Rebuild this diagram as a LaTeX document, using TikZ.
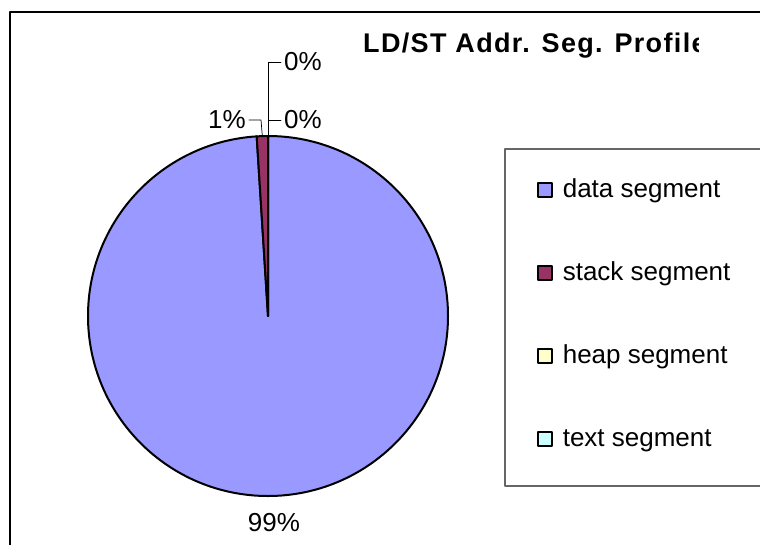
\documentclass[tikz,border=0pt]{standalone}
\usepackage{fontspec}
\setmainfont{Liberation Sans}
\newfontfamily\titlefont{Liberation Sans}[LetterSpace=5]
\usepackage{tikz}

\definecolor{dataseg}{HTML}{9999FF}
\definecolor{stackseg}{HTML}{993366}
\definecolor{heapseg}{HTML}{FFFFCC}
\definecolor{textseg}{HTML}{CCFFFF}
\definecolor{keyframe}{HTML}{666666}

\tikzset{
  slice/.style={draw=black,line width=2pt},
  pctlabel/.style={inner sep=3pt},
  leader/.style={draw=black,line width=0.7pt},
  keybox/.style={draw=black,line width=1.2pt,minimum size=14pt,inner sep=0pt},
  keytext/.style={anchor=base west,inner sep=0pt},
}

\begin{document}
\begin{tikzpicture}[x=1pt,y=-1pt,line cap=round,line join=round,font=\fontsize{26}{30}\selectfont]
    \useasboundingbox (0,0) rectangle (760,544);

    % chart frame (runs off the right and bottom edge)
    \draw[line width=1.2pt] (10,600) -- (10,12) -- (800,12);

    % title, cut off at the chart edge
    \begin{scope}
      \clip (0,0) rectangle (698,100);
      \node[anchor=base west,inner sep=0pt] (title) at (363,52) {\titlefont\fontsize{27}{30}\selectfont\bfseries LD/ST Addr. Seg. Profile};
    \end{scope}

    % the pie
    \coordinate (pc) at (268,316);
    \begin{scope}[shift={(pc)},y=1pt]
      \filldraw[slice,fill=dataseg] (0,0) -- (90:180) arc[start angle=90,end angle=-266.4,radius=180] -- cycle;
      \filldraw[slice,fill=stackseg] (0,0) -- (93.6:180) arc[start angle=93.6,end angle=90,radius=180] -- cycle;
      \coordinate (top) at (90:180);
      \coordinate (stacktop) at (91.8:180);
    \end{scope}

    % percentages
    \node[pctlabel,anchor=west] (textlbl) at (281,62) {0\%};
    \node[pctlabel,anchor=west] (heaplbl) at (281,120) {0\%};
    \node[pctlabel,anchor=east] (stacklbl) at (249,120) {1\%};
    \node[pctlabel] (datalbl) at (274,523) {99\%};

    \draw[leader] (textlbl.west) -| (top);
    \draw[leader] (heaplbl.west) -| (top);
    \draw[leader] (stacklbl.east) -- ++(12,0) -- (stacktop);

    % legend
    \draw[keyframe,line width=1.2pt] (505,149) rectangle (800,486);
    \foreach \seg/\col [count=\i] in {data/dataseg,stack/stackseg,heap/heapseg,text/textseg} {
      \node[keybox,fill=\col] (key\i) at (545,{190+83*(\i-1)}) {};
      \node[keytext] (keylbl\i) at ([shift={(10pt,-7pt)}]key\i.east) {\seg\ segment};
    }
\end{tikzpicture}
\end{document}
